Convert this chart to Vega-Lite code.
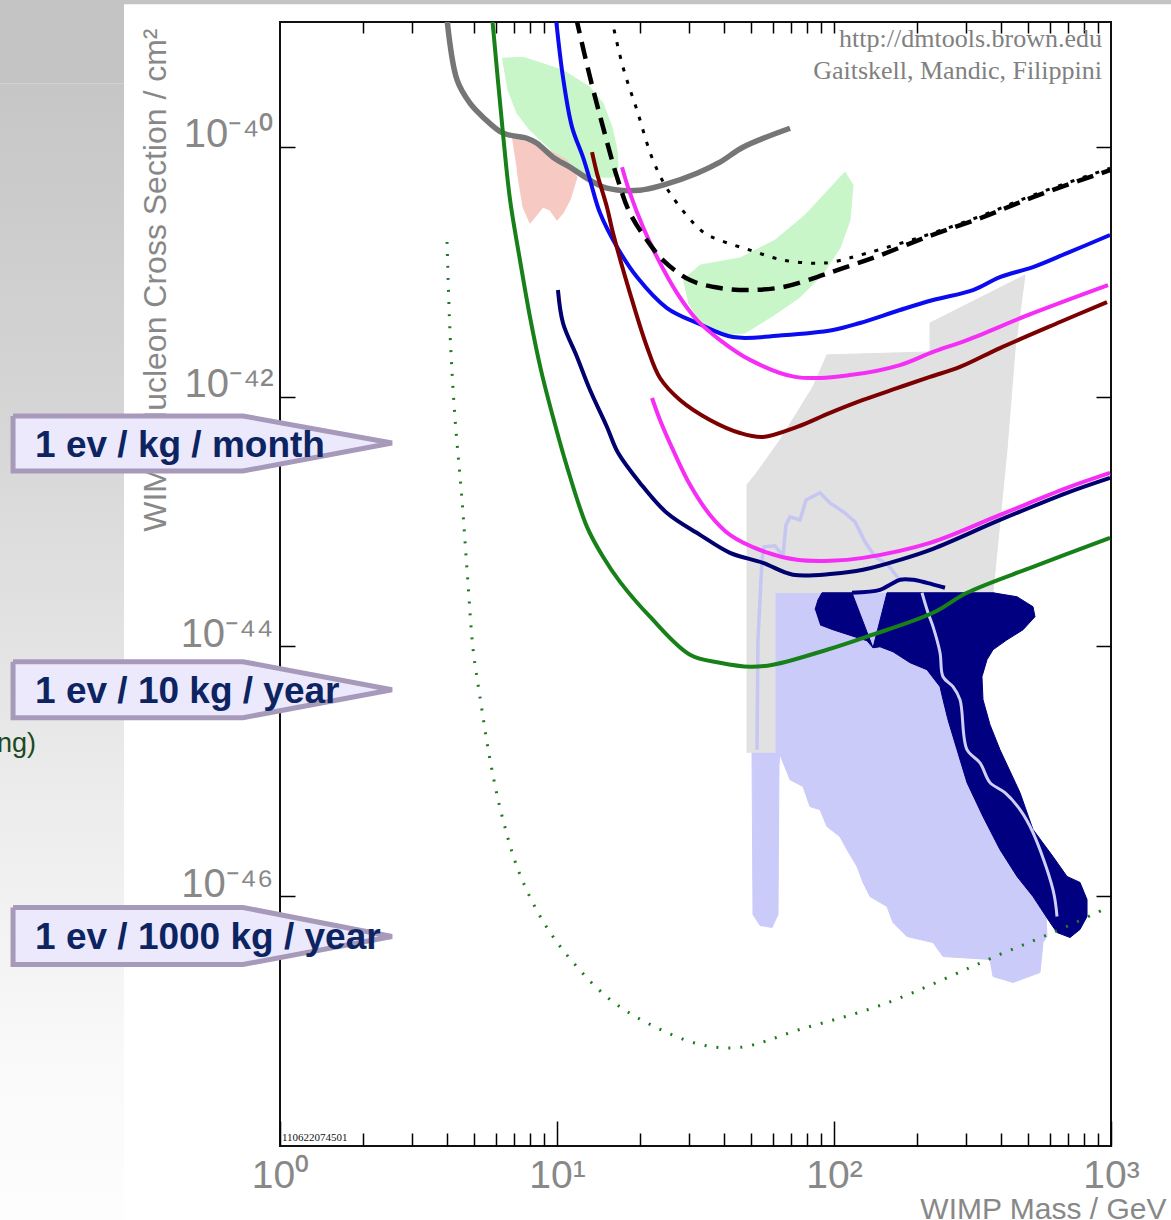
{
"$schema":"https://vega.github.io/schema/vega-lite/v6.json",
"width":831,"height":1124,
"autosize":{"type":"none"},
"padding":{"left":280,"top":22,"right":60,"bottom":74},
"background":"white",
"config":{"view":{"stroke":"#111","strokeWidth":2},"axis":{"grid":false,"domain":false}},
"datasets":{
"bg":[
{"k":"block","x1":0.05,"x2":0.2734,"y1":2e-39,"y2":3.23e-40},
{"k":"strip","x1":0.05,"x2":5000,"y1":2e-39,"y2":1.39e-39},
{"k":"panel","x1":0.05,"x2":0.2734,"y1":3.23e-40,"y2":1e-49}
],
"curves":[
{"c":"gray","i":0,"m":4.0,"s":1.1e-39},{"c":"gray","i":1,"m":4.36,"s":3.42e-40},{"c":"gray","i":2,"m":4.85,"s":2.24e-40},{"c":"gray","i":3,"m":5.41,"s":1.73e-40},{"c":"gray","i":4,"m":6.38,"s":1.29e-40},{"c":"gray","i":5,"m":7.79,"s":1.17e-40},{"c":"gray","i":6,"m":8.47,"s":1.07e-40},{"c":"gray","i":7,"m":9.67,"s":8.27e-41},{"c":"gray","i":8,"m":11.14,"s":6.88e-41},{"c":"gray","i":9,"m":13.16,"s":5.42e-41},{"c":"gray","i":10,"m":15.15,"s":4.67e-41},{"c":"gray","i":11,"m":19.93,"s":4.5e-41},{"c":"gray","i":12,"m":24.13,"s":4.94e-41},{"c":"gray","i":13,"m":32.03,"s":6.16e-41},{"c":"gray","i":14,"m":38.77,"s":7.55e-41},{"c":"gray","i":15,"m":46.94,"s":9.94e-41},{"c":"gray","i":16,"m":69.38,"s":1.41e-40},
{"c":"green","i":0,"m":5.83,"s":1.1e-39},{"c":"green","i":1,"m":6.38,"s":1.29e-40},{"c":"green","i":2,"m":6.77,"s":3.75e-41},{"c":"green","i":3,"m":7.35,"s":1.24e-41},{"c":"green","i":4,"m":7.99,"s":4.34e-42},{"c":"green","i":5,"m":8.75,"s":1.64e-42},{"c":"green","i":6,"m":9.67,"s":6.88e-43},{"c":"green","i":7,"m":10.87,"s":2.74e-43},{"c":"green","i":8,"m":12.83,"s":9.07e-44},{"c":"green","i":9,"m":14.66,"s":5.22e-44},{"c":"green","i":10,"m":16.88,"s":3.29e-44},{"c":"green","i":11,"m":21.66,"s":1.73e-44},{"c":"green","i":12,"m":30.21,"s":8.58e-45},{"c":"green","i":13,"m":38.77,"s":7.41e-45},{"c":"green","i":14,"m":49.76,"s":6.88e-45},{"c":"green","i":15,"m":60.23,"s":7.14e-45},{"c":"green","i":16,"m":94.34,"s":9.41e-45},{"c":"green","i":17,"m":131.6,"s":1.2e-44},{"c":"green","i":18,"m":227.8,"s":1.86e-44},{"c":"green","i":19,"m":302.1,"s":2.69e-44},{"c":"green","i":20,"m":522.9,"s":4.34e-44},{"c":"green","i":21,"m":992,"s":7.41e-44},
{"c":"blue","i":0,"m":9.9,"s":1.1e-39},{"c":"blue","i":1,"m":10.51,"s":3.61e-40},{"c":"blue","i":2,"m":11.33,"s":1.44e-40},{"c":"blue","i":3,"m":12.41,"s":8.27e-41},{"c":"blue","i":4,"m":13.16,"s":5.42e-41},{"c":"blue","i":5,"m":14.3,"s":2.95e-41},{"c":"blue","i":6,"m":16.47,"s":1.58e-41},{"c":"blue","i":7,"m":19.44,"s":9.07e-42},{"c":"blue","i":8,"m":24.95,"s":5.12e-42},{"c":"blue","i":9,"m":32.03,"s":3.89e-42},{"c":"blue","i":10,"m":43.19,"s":3.0e-42},{"c":"blue","i":11,"m":65.0,"s":3.1e-42},{"c":"blue","i":12,"m":99.17,"s":3.42e-42},{"c":"blue","i":13,"m":124.1,"s":3.89e-42},{"c":"blue","i":14,"m":173.1,"s":4.94e-42},{"c":"blue","i":15,"m":227.8,"s":5.94e-42},{"c":"blue","i":16,"m":317.6,"s":7.14e-42},{"c":"blue","i":17,"m":397.4,"s":9.07e-42},{"c":"blue","i":18,"m":522.9,"s":1.09e-41},{"c":"blue","i":19,"m":693.7,"s":1.41e-41},{"c":"blue","i":20,"m":992,"s":1.97e-41},
{"c":"maroon","i":0,"m":13.38,"s":9.07e-41},{"c":"maroon","i":1,"m":13.94,"s":6.16e-41},{"c":"maroon","i":2,"m":15.15,"s":3.29e-41},{"c":"maroon","i":3,"m":15.93,"s":2.04e-41},{"c":"maroon","i":4,"m":18.34,"s":6.75e-42},{"c":"maroon","i":5,"m":21.13,"s":2.5e-42},{"c":"maroon","i":6,"m":23.54,"s":1.41e-42},{"c":"maroon","i":7,"m":27.8,"s":9.41e-43},{"c":"maroon","i":8,"m":35.67,"s":6.51e-43},{"c":"maroon","i":9,"m":45.78,"s":5.12e-43},{"c":"maroon","i":10,"m":55.41,"s":4.76e-43},{"c":"maroon","i":11,"m":73.53,"s":5.72e-43},{"c":"maroon","i":12,"m":96.74,"s":7.41e-43},{"c":"maroon","i":13,"m":127.3,"s":9.41e-43},{"c":"maroon","i":14,"m":168.8,"s":1.17e-42},{"c":"maroon","i":15,"m":222.1,"s":1.44e-42},{"c":"maroon","i":16,"m":285.0,"s":1.73e-42},{"c":"maroon","i":17,"m":397.4,"s":2.45e-42},{"c":"maroon","i":18,"m":654.4,"s":3.96e-42},{"c":"maroon","i":19,"m":967.4,"s":5.72e-42},
{"c":"magenta","i":0,"m":17.17,"s":6.88e-41},{"c":"magenta","i":1,"m":18.34,"s":4.26e-41},{"c":"magenta","i":2,"m":20.44,"s":2.28e-41},{"c":"magenta","i":3,"m":22.96,"s":1.31e-41},{"c":"magenta","i":4,"m":27.13,"s":6.75e-42},{"c":"magenta","i":5,"m":32.03,"s":4.11e-42},{"c":"magenta","i":6,"m":38.77,"s":2.84e-42},{"c":"magenta","i":7,"m":49.76,"s":1.97e-42},{"c":"magenta","i":8,"m":72.32,"s":1.44e-42},{"c":"magenta","i":9,"m":114.2,"s":1.49e-42},{"c":"magenta","i":10,"m":173.1,"s":1.79e-42},{"c":"magenta","i":11,"m":227.8,"s":2.28e-42},{"c":"magenta","i":12,"m":302.1,"s":2.84e-42},{"c":"magenta","i":13,"m":522.9,"s":4.67e-42},{"c":"magenta","i":14,"m":975.4,"s":7.83e-42},
{"c":"magenta2","i":0,"m":22.03,"s":9.76e-43},{"c":"magenta2","i":1,"m":23.54,"s":6.51e-43},{"c":"magenta2","i":2,"m":26.23,"s":3.75e-43},{"c":"magenta2","i":3,"m":30.21,"s":1.97e-43},{"c":"magenta2","i":4,"m":35.67,"s":1.13e-43},{"c":"magenta2","i":5,"m":42.12,"s":7.83e-44},{"c":"magenta2","i":6,"m":56.34,"s":5.72e-44},{"c":"magenta2","i":7,"m":73.53,"s":4.94e-44},{"c":"magenta2","i":8,"m":96.74,"s":4.85e-44},{"c":"magenta2","i":9,"m":127.3,"s":5.12e-44},{"c":"magenta2","i":10,"m":222.1,"s":6.75e-44},{"c":"magenta2","i":11,"m":397.4,"s":1.13e-43},{"c":"magenta2","i":12,"m":693.7,"s":1.86e-43},{"c":"magenta2","i":13,"m":992,"s":2.45e-43},
{"c":"navy","i":0,"m":10.08,"s":7.14e-42},{"c":"navy","i":1,"m":10.51,"s":3.89e-42},{"c":"navy","i":2,"m":11.81,"s":2.08e-42},{"c":"navy","i":3,"m":13.16,"s":1.13e-42},{"c":"navy","i":4,"m":15.15,"s":5.72e-43},{"c":"navy","i":5,"m":16.61,"s":3.55e-43},{"c":"navy","i":6,"m":19.93,"s":2.04e-43},{"c":"navy","i":7,"m":24.95,"s":1.17e-43},{"c":"navy","i":8,"m":32.83,"s":7.83e-44},{"c":"navy","i":9,"m":42.12,"s":5.62e-44},{"c":"navy","i":10,"m":55.41,"s":4.67e-44},{"c":"navy","i":11,"m":71.12,"s":3.75e-44},{"c":"navy","i":12,"m":99.17,"s":3.82e-44},{"c":"navy","i":13,"m":127.3,"s":4.11e-44},{"c":"navy","i":14,"m":173.1,"s":4.94e-44},{"c":"navy","i":15,"m":227.8,"s":6.05e-44},{"c":"navy","i":16,"m":397.4,"s":1.03e-43},{"c":"navy","i":17,"m":693.7,"s":1.7e-43},{"c":"navy","i":18,"m":992,"s":2.24e-43},
{"c":"dashed","i":0,"m":11.7,"s":1.1e-39},{"c":"dashed","i":1,"m":13.16,"s":3.61e-40},{"c":"dashed","i":2,"m":14.66,"s":1.44e-40},{"c":"dashed","i":3,"m":16.47,"s":5.72e-41},{"c":"dashed","i":4,"m":18.34,"s":2.95e-41},{"c":"dashed","i":5,"m":21.13,"s":1.79e-41},{"c":"dashed","i":6,"m":24.13,"s":1.24e-41},{"c":"dashed","i":7,"m":30.21,"s":8.58e-42},{"c":"dashed","i":8,"m":38.77,"s":7.41e-42},{"c":"dashed","i":9,"m":49.76,"s":7.14e-42},{"c":"dashed","i":10,"m":65.44,"s":7.55e-42},{"c":"dashed","i":11,"m":86.82,"s":9.07e-42},{"c":"dashed","i":12,"m":107.8,"s":1.07e-41},{"c":"dashed","i":13,"m":138.3,"s":1.29e-41},{"c":"dashed","i":14,"m":216.6,"s":1.9e-41},{"c":"dashed","i":15,"m":345.1,"s":2.74e-41},{"c":"dashed","i":16,"m":522.9,"s":3.96e-41},{"c":"dashed","i":17,"m":992,"s":6.51e-41},
{"c":"dotted","i":0,"m":15.7,"s":1.1e-39},{"c":"dotted","i":1,"m":17.31,"s":4.34e-40},{"c":"dotted","i":2,"m":19.44,"s":1.97e-40},{"c":"dotted","i":3,"m":22.21,"s":7.83e-41},{"c":"dotted","i":4,"m":25.58,"s":4.26e-41},{"c":"dotted","i":5,"m":33.66,"s":2.08e-41},{"c":"dotted","i":6,"m":38.77,"s":1.79e-41},{"c":"dotted","i":7,"m":49.76,"s":1.49e-41},{"c":"dotted","i":8,"m":65.44,"s":1.24e-41},{"c":"dotted","i":9,"m":86.82,"s":1.17e-41},{"c":"dotted","i":10,"m":99.17,"s":1.2e-41},{"c":"dotted","i":11,"m":131.6,"s":1.41e-41},{"c":"dotted","i":12,"m":216.6,"s":1.97e-41},{"c":"dotted","i":13,"m":345.1,"s":2.84e-41},{"c":"dotted","i":14,"m":522.9,"s":4.11e-41},{"c":"dotted","i":15,"m":992,"s":6.75e-41},
{"c":"greendot","i":0,"m":4.01,"s":1.73e-41},{"c":"greendot","i":1,"m":4.11,"s":3.23e-42},{"c":"greendot","i":2,"m":4.28,"s":6.88e-43},{"c":"greendot","i":3,"m":4.54,"s":1.49e-43},{"c":"greendot","i":4,"m":4.77,"s":3.23e-44},{"c":"greendot","i":5,"m":4.98,"s":9.41e-45},{"c":"greendot","i":6,"m":5.27,"s":3.96e-45},{"c":"greendot","i":7,"m":5.73,"s":1.24e-45},{"c":"greendot","i":8,"m":6.38,"s":4.11e-46},{"c":"greendot","i":9,"m":7.35,"s":1.49e-46},{"c":"greendot","i":10,"m":9.05,"s":5.94e-47},{"c":"greendot","i":11,"m":11.61,"s":2.84e-47},{"c":"greendot","i":12,"m":15.54,"s":1.49e-47},{"c":"greendot","i":13,"m":21.66,"s":9.41e-48},{"c":"greendot","i":14,"m":32.83,"s":6.51e-48},{"c":"greendot","i":15,"m":45.78,"s":6.16e-48},{"c":"greendot","i":16,"m":75.4,"s":8.58e-48},{"c":"greendot","i":17,"m":150.3,"s":1.36e-47},{"c":"greendot","i":18,"m":397.4,"s":3.42e-47},{"c":"greendot","i":19,"m":654.4,"s":5.42e-47},{"c":"greendot","i":20,"m":992,"s":8.27e-47}
],
"shapes":[
{"g":"green1","i":0,"m":6.33,"s":5.12e-40},{"g":"green1","i":1,"m":7.54,"s":5.22e-40},{"g":"green1","i":2,"m":10.51,"s":4.11e-40},{"g":"green1","i":3,"m":13.16,"s":3.0e-40},{"g":"green1","i":4,"m":14.66,"s":2.24e-40},{"g":"green1","i":5,"m":15.8,"s":1.44e-40},{"g":"green1","i":6,"m":16.47,"s":9.41e-41},{"g":"green1","i":7,"m":16.61,"s":6.88e-41},{"g":"green1","i":8,"m":15.93,"s":5.72e-41},{"g":"green1","i":9,"m":13.16,"s":5.72e-41},{"g":"green1","i":10,"m":10.25,"s":8.12e-41},{"g":"green1","i":11,"m":7.99,"s":1.36e-40},{"g":"green1","i":12,"m":7.17,"s":1.86e-40},{"g":"green1","i":13,"m":6.6,"s":3.0e-40},
{"g":"green2","i":0,"m":28.5,"s":8.58e-42},{"g":"green2","i":1,"m":32.83,"s":1.13e-41},{"g":"green2","i":2,"m":45.78,"s":1.29e-41},{"g":"green2","i":3,"m":61.24,"s":1.79e-41},{"g":"green2","i":4,"m":78.59,"s":2.84e-41},{"g":"green2","i":5,"m":96.74,"s":4.67e-41},{"g":"green2","i":6,"m":109.6,"s":6.28e-41},{"g":"green2","i":7,"m":117.1,"s":4.94e-41},{"g":"green2","i":8,"m":114.2,"s":2.59e-41},{"g":"green2","i":9,"m":105.1,"s":1.55e-41},{"g":"green2","i":10,"m":90.5,"s":9.41e-42},{"g":"green2","i":11,"m":75.4,"s":6.28e-42},{"g":"green2","i":12,"m":62.26,"s":4.67e-42},{"g":"green2","i":13,"m":47.72,"s":3.23e-42},{"g":"green2","i":14,"m":38.77,"s":3.12e-42},{"g":"green2","i":15,"m":32.83,"s":3.96e-42},{"g":"green2","i":16,"m":29.71,"s":5.72e-42},
{"g":"pink","i":0,"m":6.88,"s":1.17e-40},{"g":"pink","i":1,"m":8.68,"s":1.03e-40},{"g":"pink","i":2,"m":10.87,"s":7.83e-41},{"g":"pink","i":3,"m":11.81,"s":5.72e-41},{"g":"pink","i":4,"m":11.14,"s":3.75e-41},{"g":"pink","i":5,"m":10.51,"s":2.95e-41},{"g":"pink","i":6,"m":10.0,"s":2.59e-41},{"g":"pink","i":7,"m":9.43,"s":3.12e-41},{"g":"pink","i":8,"m":8.9,"s":3.29e-41},{"g":"pink","i":9,"m":7.99,"s":2.45e-41},{"g":"pink","i":10,"m":7.54,"s":3.29e-41},{"g":"pink","i":11,"m":7.17,"s":6.51e-41},
{"g":"grayreg","i":0,"m":48.52,"s":1.41e-45},{"g":"grayreg","i":1,"m":48.52,"s":1.97e-43},{"g":"grayreg","i":2,"m":51.86,"s":2.36e-43},{"g":"grayreg","i":3,"m":63.84,"s":4.5e-43},{"g":"grayreg","i":4,"m":84.01,"s":1.2e-42},{"g":"grayreg","i":5,"m":94.34,"s":2.16e-42},{"g":"grayreg","i":6,"m":222.1,"s":2.28e-42},{"g":"grayreg","i":7,"m":222.1,"s":3.89e-42},{"g":"grayreg","i":8,"m":489.3,"s":9.41e-42},{"g":"grayreg","i":9,"m":450.2,"s":2.36e-42},{"g":"grayreg","i":10,"m":421.2,"s":3.75e-43},{"g":"grayreg","i":11,"m":375.0,"s":2.74e-44},{"g":"grayreg","i":12,"m":61.24,"s":2.69e-44},{"g":"grayreg","i":13,"m":61.24,"s":1.41e-45},
{"g":"lav","i":0,"m":61.24,"s":2.69e-44},{"g":"lav","i":1,"m":381.3,"s":2.69e-44},{"g":"lav","i":2,"m":336.6,"s":9.41e-45},{"g":"lav","i":3,"m":322.8,"s":3.75e-45},{"g":"lav","i":4,"m":365.8,"s":1.24e-45},{"g":"lav","i":5,"m":469.4,"s":2.84e-46},{"g":"lav","i":6,"m":577.9,"s":9.41e-47},{"g":"lav","i":7,"m":587.5,"s":4.76e-47},{"g":"lav","i":8,"m":568.2,"s":4.26e-47},{"g":"lav","i":9,"m":554.1,"s":2.45e-47},{"g":"lav","i":10,"m":442.8,"s":2.04e-47},{"g":"lav","i":11,"m":375.0,"s":2.28e-47},{"g":"lav","i":12,"m":365.8,"s":3.12e-47},{"g":"lav","i":13,"m":247.5,"s":3.29e-47},{"g":"lav","i":14,"m":227.8,"s":4.26e-47},{"g":"lav","i":15,"m":183.4,"s":4.76e-47},{"g":"lav","i":16,"m":163.3,"s":6.16e-47},{"g":"lav","i":17,"m":155.4,"s":8.27e-47},{"g":"lav","i":18,"m":134.9,"s":9.94e-47},{"g":"lav","i":19,"m":127.3,"s":1.29e-46},{"g":"lav","i":20,"m":121.1,"s":1.73e-46},{"g":"lav","i":21,"m":111.4,"s":2.36e-46},{"g":"lav","i":22,"m":105.1,"s":3.0e-46},{"g":"lav","i":23,"m":94.34,"s":3.61e-46},{"g":"lav","i":24,"m":89.02,"s":4.94e-46},{"g":"lav","i":25,"m":81.93,"s":5.22e-46},{"g":"lav","i":26,"m":77.29,"s":7.55e-46},{"g":"lav","i":27,"m":69.38,"s":8.58e-46},{"g":"lav","i":28,"m":63.84,"s":1.36e-45},{"g":"lav","i":29,"m":63.3,"s":1.13e-45},{"g":"lav","i":30,"m":62.78,"s":7.14e-47},{"g":"lav","i":31,"m":59.74,"s":5.62e-47},{"g":"lav","i":32,"m":54.07,"s":5.83e-47},{"g":"lav","i":33,"m":51.0,"s":7.14e-47},{"g":"lav","i":34,"m":50.58,"s":1.41e-45},{"g":"lav","i":35,"m":61.24,"s":1.41e-45},
{"g":"navyreg","i":0,"m":85.4,"s":1.97e-44},{"g":"navyreg","i":1,"m":87.55,"s":2.36e-44},{"g":"navyreg","i":2,"m":90.5,"s":2.69e-44},{"g":"navyreg","i":3,"m":116.1,"s":2.69e-44},{"g":"navyreg","i":4,"m":138.3,"s":9.76e-45},{"g":"navyreg","i":5,"m":155.4,"s":2.69e-44},{"g":"navyreg","i":6,"m":375.0,"s":2.69e-44},{"g":"navyreg","i":7,"m":457.8,"s":2.5e-44},{"g":"navyreg","i":8,"m":522.9,"s":2.08e-44},{"g":"navyreg","i":9,"m":531.6,"s":1.73e-44},{"g":"navyreg","i":10,"m":481.3,"s":1.36e-44},{"g":"navyreg","i":11,"m":421.2,"s":1.13e-44},{"g":"navyreg","i":12,"m":375.0,"s":9.41e-45},{"g":"navyreg","i":13,"m":356.7,"s":7.83e-45},{"g":"navyreg","i":14,"m":342.1,"s":5.72e-45},{"g":"navyreg","i":15,"m":345.1,"s":3.75e-45},{"g":"navyreg","i":16,"m":365.8,"s":2.36e-45},{"g":"navyreg","i":17,"m":397.4,"s":1.49e-45},{"g":"navyreg","i":18,"m":469.4,"s":6.75e-46},{"g":"navyreg","i":19,"m":522.9,"s":3.42e-46},{"g":"navyreg","i":20,"m":617.3,"s":2.08e-46},{"g":"navyreg","i":21,"m":693.7,"s":1.44e-46},{"g":"navyreg","i":22,"m":772.9,"s":1.29e-46},{"g":"navyreg","i":23,"m":819.3,"s":9.41e-47},{"g":"navyreg","i":24,"m":819.3,"s":6.88e-47},{"g":"navyreg","i":25,"m":772.9,"s":5.42e-47},{"g":"navyreg","i":26,"m":711.2,"s":4.67e-47},{"g":"navyreg","i":27,"m":638.4,"s":5.12e-47},{"g":"navyreg","i":28,"m":602.4,"s":6.16e-47},{"g":"navyreg","i":29,"m":522.9,"s":9.94e-47},{"g":"navyreg","i":30,"m":457.8,"s":1.44e-46},{"g":"navyreg","i":31,"m":397.4,"s":2.36e-46},{"g":"navyreg","i":32,"m":345.1,"s":4.34e-46},{"g":"navyreg","i":33,"m":302.1,"s":8.12e-46},{"g":"navyreg","i":34,"m":278.0,"s":1.49e-45},{"g":"navyreg","i":35,"m":257.9,"s":2.59e-45},{"g":"navyreg","i":36,"m":247.5,"s":3.75e-45},{"g":"navyreg","i":37,"m":241.4,"s":4.76e-45},{"g":"navyreg","i":38,"m":216.6,"s":6.51e-45},{"g":"navyreg","i":39,"m":188.2,"s":7.41e-45},{"g":"navyreg","i":40,"m":163.3,"s":9.07e-45},{"g":"navyreg","i":41,"m":146.6,"s":9.94e-45},{"g":"navyreg","i":42,"m":138.3,"s":9.76e-45},{"g":"navyreg","i":43,"m":131.6,"s":1.11e-44},{"g":"navyreg","i":44,"m":99.17,"s":1.36e-44},{"g":"navyreg","i":45,"m":89.02,"s":1.49e-44},
{"g":"navyline","i":0,"m":116.1,"s":2.69e-44},{"g":"navyline","i":1,"m":146.6,"s":2.84e-44},{"g":"navyline","i":2,"m":159.3,"s":3.12e-44},{"g":"navyline","i":3,"m":173.1,"s":3.42e-44},{"g":"navyline","i":4,"m":192.8,"s":3.42e-44},{"g":"navyline","i":5,"m":216.6,"s":3.23e-44},{"g":"navyline","i":6,"m":251.6,"s":2.95e-44},
{"g":"inner","i":0,"m":207.8,"s":2.69e-44},{"g":"inner","i":1,"m":218.5,"s":1.86e-44},{"g":"inner","i":2,"m":227.8,"s":1.44e-44},{"g":"inner","i":3,"m":241.4,"s":8.9e-45},{"g":"inner","i":4,"m":247.5,"s":5.72e-45},{"g":"inner","i":5,"m":268.9,"s":4.76e-45},{"g":"inner","i":6,"m":285.0,"s":3.75e-45},{"g":"inner","i":7,"m":302.1,"s":1.49e-45},{"g":"inner","i":8,"m":336.6,"s":1.17e-45},{"g":"inner","i":9,"m":365.8,"s":8.12e-46},{"g":"inner","i":10,"m":414.2,"s":6.75e-46},{"g":"inner","i":11,"m":469.4,"s":4.94e-46},{"g":"inner","i":12,"m":522.9,"s":3.23e-46},{"g":"inner","i":13,"m":617.3,"s":1.13e-46},{"g":"inner","i":14,"m":638.4,"s":6.88e-47},
{"g":"outline","i":0,"m":52.72,"s":1.49e-45},{"g":"outline","i":1,"m":53.16,"s":1.13e-44},{"g":"outline","i":2,"m":54.96,"s":4.94e-44},{"g":"outline","i":3,"m":55.88,"s":6.28e-44},{"g":"outline","i":4,"m":61.24,"s":6.39e-44},{"g":"outline","i":5,"m":65.44,"s":5.32e-44},{"g":"outline","i":6,"m":67.08,"s":9.41e-44},{"g":"outline","i":7,"m":69.38,"s":1.09e-43},{"g":"outline","i":8,"m":75.4,"s":1.03e-43},{"g":"outline","i":9,"m":79.24,"s":1.49e-43},{"g":"outline","i":10,"m":89.02,"s":1.7e-43},{"g":"outline","i":11,"m":96.74,"s":1.41e-43},{"g":"outline","i":12,"m":109.6,"s":1.17e-43},{"g":"outline","i":13,"m":119.1,"s":9.94e-44},{"g":"outline","i":14,"m":129.4,"s":6.88e-44},{"g":"outline","i":15,"m":140.6,"s":5.22e-44},{"g":"outline","i":16,"m":156.6,"s":4.5e-44},{"g":"outline","i":17,"m":170.2,"s":3.55e-44}
],
"callouts":[
{"id":"a","i":0,"m":0.1087,"s":7.01e-43},{"id":"a","i":1,"m":0.7353,"s":7.01e-43},{"id":"a","i":2,"m":2.537,"s":4.26e-43},{"id":"a","i":3,"m":0.7353,"s":2.54e-43},{"id":"a","i":4,"m":0.1087,"s":2.54e-43},{"id":"a","i":5,"m":0.1087,"s":7.01e-43},
{"id":"b","i":0,"m":0.1087,"s":7.55e-45},{"id":"b","i":1,"m":0.7353,"s":7.55e-45},{"id":"b","i":2,"m":2.537,"s":4.5e-45},{"id":"b","i":3,"m":0.7353,"s":2.69e-45},{"id":"b","i":4,"m":0.1087,"s":2.69e-45},{"id":"b","i":5,"m":0.1087,"s":7.55e-45},
{"id":"c","i":0,"m":0.1087,"s":8.12e-47},{"id":"c","i":1,"m":0.7353,"s":8.12e-47},{"id":"c","i":2,"m":2.537,"s":4.76e-47},{"id":"c","i":3,"m":0.7353,"s":2.84e-47},{"id":"c","i":4,"m":0.1087,"s":2.84e-47},{"id":"c","i":5,"m":0.1087,"s":8.12e-47}
],
"texts":[
{"k":"co","t":"1 ev / kg / month","m":0.1305,"s":3.29e-43},
{"k":"co","t":"1 ev / 10 kg / year","m":0.1305,"s":3.55e-45},
{"k":"co","t":"1 ev / 1000 kg / year","m":0.1305,"s":3.75e-47},
{"k":"serif","t":"http://dmtools.brown.edu","m":928,"s":6.28e-40},
{"k":"serif","t":"Gaitskell, Mandic, Filippini","m":928,"s":3.48e-40},
{"k":"id","t":"110622074501","m":1.017,"s":1.09e-48},
{"k":"ng","t":"ng)","m":0.1316,"s":1.44e-45}
]
},
"layer":[
{"data":{"name":"bg"},"transform":[{"filter":"datum.k != 'panel'"}],
 "mark":{"type":"rect","fill":"#c4c4c4","clip":false},
 "encoding":{
  "x":{"field":"x1","type":"quantitative","scale":{"type":"log","domain":[1,1000]},
   "axis":{"orient":"bottom","values":[1,2,3,4,5,6,7,8,9,10,20,30,40,50,60,70,80,90,100,200,300,400,500,600,700,800,900,1000],
    "labelExpr":"datum.value == 1 ? '10⁰' : datum.value == 10 ? '10¹' : datum.value == 100 ? '10²' : datum.value == 1000 ? '10³' : ''",
    "tickSize":{"condition":{"test":"datum.value == 1 || datum.value == 10 || datum.value == 100 || datum.value == 1000","value":-25},"value":-13},
    "tickColor":"#000","tickWidth":1.5,"labelPadding":35,"labelFontSize":39,"labelColor":"#888","labelFont":"Liberation Sans",
    "labelOverlap":false,"labelBound":false,"labelFlush":false,
    "title":"WIMP Mass / GeV","titleFontSize":30,"titleFontWeight":"normal","titleColor":"#888","titleFont":"Liberation Sans",
    "titleX":886,"titleY":72,"titleAlign":"right","titleBaseline":"alphabetic"}},
  "x2":{"field":"x2"},
  "y":{"field":"y1","type":"quantitative","scale":{"type":"log","domain":[1e-48,1e-39]},
   "axis":{"orient":"left","values":[1e-46,1e-44,1e-42,1e-40],
    "labelExpr":"datum.value < 1e-45 ? '10⁻⁴⁶' : datum.value < 1e-43 ? '10⁻⁴⁴' : datum.value < 1e-41 ? '10⁻⁴²' : '10⁻⁴⁰'",
    "tickSize":-15,"tickColor":"#000","tickWidth":1.5,"labelPadding":22,"labelBaseline":"alphabetic","labelFontSize":40,"labelColor":"#888","labelFont":"Liberation Sans",
    "labelOverlap":false,"labelBound":false,"labelFlush":false,
    "title":"WIMP-Nucleon Cross Section / cm²","titleFontSize":32,"titleFontWeight":"normal","titleColor":"#888","titleFont":"Liberation Sans",
    "titleX":-115,"titleY":6,"titleAngle":270,"titleAlign":"right","titleBaseline":"alphabetic"}},
  "y2":{"field":"y2"}}},
{"data":{"name":"bg"},"transform":[{"filter":"datum.k == 'panel'"}],
 "mark":{"type":"rect","clip":false,"fill":{"gradient":"linear","x1":0,"y1":0,"x2":0,"y2":1,"stops":[{"offset":0,"color":"#c6c6c6"},{"offset":0.27,"color":"#d5d5d5"},{"offset":0.6,"color":"#ececec"},{"offset":0.82,"color":"#f9f9f9"},{"offset":1,"color":"#ffffff"}]}},
 "encoding":{"x":{"field":"x1","type":"quantitative","scale":{"type":"log"},"axis":null},"x2":{"field":"x2"},
  "y":{"field":"y1","type":"quantitative","scale":{"type":"log"},"axis":null},"y2":{"field":"y2"}}},
{"data":{"name":"texts"},"transform":[{"filter":"datum.k == 'id'"}],
 "mark":{"type":"point","opacity":0},
 "encoding":{
  "x":{"field":"m","type":"quantitative","scale":{"type":"log"},
   "axis":{"orient":"top","values":[2,3,4,5,6,7,8,9,10,20,30,40,50,60,70,80,90,100,200,300,400,500,600,700,800,900],"labels":false,"tickSize":-11,"tickColor":"#000","tickWidth":1.5,"title":null}},
  "y":{"field":"s","type":"quantitative","scale":{"type":"log"},
   "axis":{"orient":"right","values":[1e-46,1e-44,1e-42,1e-40],"labels":false,"tickSize":-15,"tickColor":"#000","tickWidth":1.5,"title":null}}}},
{"data":{"name":"shapes"},"transform":[{"filter":"datum.g == 'lav'"}],
 "mark":{"type":"line","fill":"#cbcbfa","stroke":"#cbcbfa","strokeWidth":1,"clip":true},
 "encoding":{"x":{"field":"m","type":"quantitative","scale":{"type":"log"},"axis":null},"y":{"field":"s","type":"quantitative","scale":{"type":"log"},"axis":null},"order":{"field":"i","type":"quantitative"}}},
{"data":{"name":"shapes"},"transform":[{"filter":"datum.g == 'grayreg'"}],
 "mark":{"type":"line","fill":"#e1e1e1","stroke":"#e1e1e1","strokeWidth":1,"clip":true},
 "encoding":{"x":{"field":"m","type":"quantitative","scale":{"type":"log"},"axis":null},"y":{"field":"s","type":"quantitative","scale":{"type":"log"},"axis":null},"order":{"field":"i","type":"quantitative"}}},
{"data":{"name":"shapes"},"transform":[{"filter":"datum.g == 'outline'"}],
 "mark":{"type":"line","stroke":"#c6c6f2","strokeWidth":3.5,"clip":true},
 "encoding":{"x":{"field":"m","type":"quantitative","scale":{"type":"log"},"axis":null},"y":{"field":"s","type":"quantitative","scale":{"type":"log"},"axis":null},"order":{"field":"i","type":"quantitative"}}},
{"data":{"name":"shapes"},"transform":[{"filter":"datum.g == 'navyreg'"}],
 "mark":{"type":"line","fill":"#000080","stroke":"#000080","strokeWidth":1,"clip":true},
 "encoding":{"x":{"field":"m","type":"quantitative","scale":{"type":"log"},"axis":null},"y":{"field":"s","type":"quantitative","scale":{"type":"log"},"axis":null},"order":{"field":"i","type":"quantitative"}}},
{"data":{"name":"shapes"},"transform":[{"filter":"datum.g == 'inner'"}],
 "mark":{"type":"line","stroke":"#cfcff8","strokeWidth":3,"interpolate":"catmull-rom","clip":true},
 "encoding":{"x":{"field":"m","type":"quantitative","scale":{"type":"log"},"axis":null},"y":{"field":"s","type":"quantitative","scale":{"type":"log"},"axis":null},"order":{"field":"i","type":"quantitative"}}},
{"data":{"name":"shapes"},"transform":[{"filter":"datum.g == 'navyline'"}],
 "mark":{"type":"line","stroke":"#000080","strokeWidth":4,"interpolate":"catmull-rom","clip":true},
 "encoding":{"x":{"field":"m","type":"quantitative","scale":{"type":"log"},"axis":null},"y":{"field":"s","type":"quantitative","scale":{"type":"log"},"axis":null},"order":{"field":"i","type":"quantitative"}}},
{"data":{"name":"shapes"},"transform":[{"filter":"datum.g == 'green1' || datum.g == 'green2'"}],
 "mark":{"type":"line","fill":"#c8f6c8","stroke":"#c8f6c8","strokeWidth":1,"clip":true},
 "encoding":{"x":{"field":"m","type":"quantitative","scale":{"type":"log"},"axis":null},"y":{"field":"s","type":"quantitative","scale":{"type":"log"},"axis":null},"detail":{"field":"g"},"order":{"field":"i","type":"quantitative"}}},
{"data":{"name":"shapes"},"transform":[{"filter":"datum.g == 'pink'"}],
 "mark":{"type":"line","fill":"#f7c9c3","stroke":"#f7c9c3","strokeWidth":1,"clip":true},
 "encoding":{"x":{"field":"m","type":"quantitative","scale":{"type":"log"},"axis":null},"y":{"field":"s","type":"quantitative","scale":{"type":"log"},"axis":null},"order":{"field":"i","type":"quantitative"}}},
{"data":{"name":"curves"},"transform":[{"filter":"datum.c == 'greendot'"}],
 "mark":{"type":"line","stroke":"#1f7a1f","strokeWidth":3,"strokeDash":[2,10],"interpolate":"catmull-rom","clip":true},
 "encoding":{"x":{"field":"m","type":"quantitative","scale":{"type":"log"},"axis":null},"y":{"field":"s","type":"quantitative","scale":{"type":"log"},"axis":null},"order":{"field":"i","type":"quantitative"}}},
{"data":{"name":"curves"},"transform":[{"filter":"datum.c == 'gray'"}],
 "mark":{"type":"line","stroke":"#767676","strokeWidth":5.5,"interpolate":"catmull-rom","clip":true},
 "encoding":{"x":{"field":"m","type":"quantitative","scale":{"type":"log"},"axis":null},"y":{"field":"s","type":"quantitative","scale":{"type":"log"},"axis":null},"order":{"field":"i","type":"quantitative"}}},
{"data":{"name":"curves"},"transform":[{"filter":"indexof(['green','blue','maroon','magenta','magenta2','navy'], datum.c) >= 0"}],
 "mark":{"type":"line","strokeWidth":4,"interpolate":"catmull-rom","clip":true},
 "encoding":{"x":{"field":"m","type":"quantitative","scale":{"type":"log"},"axis":null},"y":{"field":"s","type":"quantitative","scale":{"type":"log"},"axis":null},
  "color":{"field":"c","type":"nominal","scale":{"domain":["green","blue","maroon","magenta","magenta2","navy"],"range":["#188018","#0b0bf0","#7c0000","#f52ef5","#f52ef5","#00006e"]},"legend":null},
  "order":{"field":"i","type":"quantitative"}}},
{"data":{"name":"curves"},"transform":[{"filter":"datum.c == 'dashed'"}],
 "mark":{"type":"line","stroke":"#000","strokeWidth":4.5,"strokeDash":[17,9],"interpolate":"catmull-rom","clip":true},
 "encoding":{"x":{"field":"m","type":"quantitative","scale":{"type":"log"},"axis":null},"y":{"field":"s","type":"quantitative","scale":{"type":"log"},"axis":null},"order":{"field":"i","type":"quantitative"}}},
{"data":{"name":"curves"},"transform":[{"filter":"datum.c == 'dotted'"}],
 "mark":{"type":"line","stroke":"#000","strokeWidth":3,"strokeDash":[4,9],"interpolate":"catmull-rom","clip":true},
 "encoding":{"x":{"field":"m","type":"quantitative","scale":{"type":"log"},"axis":null},"y":{"field":"s","type":"quantitative","scale":{"type":"log"},"axis":null},"order":{"field":"i","type":"quantitative"}}},
{"data":{"name":"callouts"},
 "mark":{"type":"line","fill":"#ece9fc","stroke":"#a699ba","strokeWidth":5,"strokeJoin":"miter","clip":false},
 "encoding":{"x":{"field":"m","type":"quantitative","scale":{"type":"log"},"axis":null},"y":{"field":"s","type":"quantitative","scale":{"type":"log"},"axis":null},"detail":{"field":"id"},"order":{"field":"i","type":"quantitative"}}},
{"data":{"name":"texts"},"transform":[{"filter":"datum.k == 'co'"}],
 "mark":{"type":"text","align":"left","baseline":"alphabetic","fontSize":37,"fontWeight":"bold","font":"Liberation Sans","color":"#0c2461","clip":false},
 "encoding":{"x":{"field":"m","type":"quantitative","scale":{"type":"log"},"axis":null},"y":{"field":"s","type":"quantitative","scale":{"type":"log"},"axis":null},"text":{"field":"t"}}},
{"data":{"name":"texts"},"transform":[{"filter":"datum.k == 'serif'"}],
 "mark":{"type":"text","align":"right","baseline":"alphabetic","fontSize":26,"font":"Liberation Serif","color":"#808080","clip":false},
 "encoding":{"x":{"field":"m","type":"quantitative","scale":{"type":"log"},"axis":null},"y":{"field":"s","type":"quantitative","scale":{"type":"log"},"axis":null},"text":{"field":"t"}}},
{"data":{"name":"texts"},"transform":[{"filter":"datum.k == 'id'"}],
 "mark":{"type":"text","align":"left","baseline":"alphabetic","fontSize":11,"font":"Liberation Serif","color":"#111","clip":false},
 "encoding":{"x":{"field":"m","type":"quantitative","scale":{"type":"log"},"axis":null},"y":{"field":"s","type":"quantitative","scale":{"type":"log"},"axis":null},"text":{"field":"t"}}},
{"data":{"name":"texts"},"transform":[{"filter":"datum.k == 'ng'"}],
 "mark":{"type":"text","align":"right","baseline":"alphabetic","fontSize":27,"font":"Liberation Sans","color":"#1d4a1d","clip":false},
 "encoding":{"x":{"field":"m","type":"quantitative","scale":{"type":"log"},"axis":null},"y":{"field":"s","type":"quantitative","scale":{"type":"log"},"axis":null},"text":{"field":"t"}}}
],
"resolve":{"axis":{"x":"independent","y":"independent"}}
}
